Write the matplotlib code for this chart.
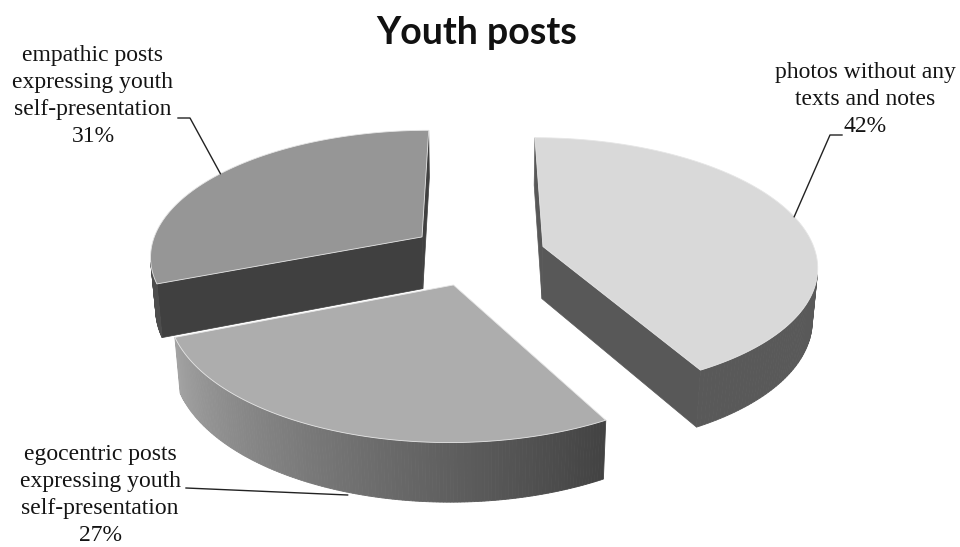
import numpy as np
import matplotlib
matplotlib.use("Agg")
import matplotlib.pyplot as plt
from matplotlib.patches import Polygon

# ---- data ----
categories = ["photos without any\ntexts and notes",
              "egocentric posts\nexpressing youth\nself-presentation",
              "empathic posts\nexpressing youth\nself-presentation"]
values = [42, 27, 31]
top_colors = ["#d9d9d9", "#adadad", "#969696"]
cut_colors = ["#585858", "#454545", "#404040"]

title = "Youth posts"

# ---- 3D projection parameters (pixel space) ----
W, H = 960, 547
cx, cy = 477.4, 254.3
f, D = 1731.0, 6.34
elev = np.deg2rad(27.5)
h = 0.22
expl = 0.25
ce, se = np.cos(elev), np.sin(elev)
cam = np.array([0.0, -D * ce, D * se])


def proj(x, y, z):
    x = np.asarray(x, float); y = np.asarray(y, float); z = np.asarray(z, float)
    w = D + y * ce - z * se
    v = y * se + z * ce
    return cx + f * x / w, cy - f * v / w


def wall_shade(i, t):
    # t in degrees (math angle)
    if i == 1:
        a = np.clip((t - (-158.4)) / ((-61.2) - (-158.4)), 0, 1)
        g = 0.64 * (1 - a) + 0.26 * a
    elif i == 0:
        g = 0.35
    else:
        g = 0.30
    return (g, g, g)


fig = plt.figure(figsize=(W / 100, H / 100), dpi=100)
ax = fig.add_axes([0, 0, 1, 1])
ax.set_xlim(0, W)
ax.set_ylim(H, 0)
ax.axis("off")

total = float(sum(values))
starts, ends, mids = [], [], []
cum = 0.0
for v in values:
    t0 = 90 - cum / total * 360
    t1 = t0 - v / total * 360
    starts.append(t0); ends.append(t1); mids.append((t0 + t1) / 2)
    cum += v

offsets = [expl * np.array([np.cos(np.deg2rad(m)), np.sin(np.deg2rad(m))]) for m in mids]
order = sorted(range(len(values)), key=lambda i: -offsets[i][1])


def visible(n, p):
    return np.dot(n, cam - p) > 0


for i in order:
    ox, oy = offsets[i]
    t0, t1 = starts[i], ends[i]
    ts = np.linspace(t0, t1, 160)
    tr = np.deg2rad(ts)
    ax_ = ox + np.cos(tr); ay_ = oy + np.sin(tr)
    # cut faces
    for t, sign in ((t0, 1), (t1, -1)):
        r = np.deg2rad(t)
        n = sign * np.array([-np.sin(r), np.cos(r), 0.0])
        p = np.array([ox + 0.5 * np.cos(r), oy + 0.5 * np.sin(r), -h / 2])
        if visible(n, p):
            xs = [ox, ox + np.cos(r), ox + np.cos(r), ox]
            ys = [oy, oy + np.sin(r), oy + np.sin(r), oy]
            zs = [0, 0, -h, -h]
            X, Y = proj(xs, ys, zs)
            ax.add_patch(Polygon(np.c_[X, Y], closed=True, fc=cut_colors[i],
                                 ec=cut_colors[i], lw=0.5, zorder=2))
    # outer wall
    for k in range(len(ts) - 1):
        tm = np.deg2rad((ts[k] + ts[k + 1]) / 2)
        n = np.array([np.cos(tm), np.sin(tm), 0.0])
        p = np.array([ox + np.cos(tm), oy + np.sin(tm), -h / 2])
        if visible(n, p):
            xs = [ax_[k], ax_[k + 1], ax_[k + 1], ax_[k]]
            ys = [ay_[k], ay_[k + 1], ay_[k + 1], ay_[k]]
            zs = [0, 0, -h, -h]
            X, Y = proj(xs, ys, zs)
            c = wall_shade(i, (ts[k] + ts[k + 1]) / 2)
            ax.add_patch(Polygon(np.c_[X, Y], closed=True, fc=c, ec=c, lw=0.6, zorder=2))
    # top face
    X, Y = proj(np.r_[ox, ax_], np.r_[oy, ay_], np.zeros(len(ts) + 1))
    ax.add_patch(Polygon(np.c_[X, Y], closed=True, fc=top_colors[i],
                         ec="#e6e6e6", lw=0.6, zorder=3))

# ---- labels ----
label_pos = [(865, 99.5), (100, 495), (93, 96)]
elbows = [[(842, 135), (830, 135)], [(186, 488)], [(178, 118), (190, 118)]]
for i in range(len(values)):
    txt = f"{categories[i]}\n{values[i]}%"
    ax.text(label_pos[i][0], label_pos[i][1], txt, ha="center", va="center",
            fontsize=17, family="Liberation Serif", linespacing=1.37,
            color="#141414", zorder=5)
    ox, oy = offsets[i]
    r = np.deg2rad(mids[i])
    z = -h if i == 1 else 0.0
    px, py = proj(ox + np.cos(r), oy + np.sin(r), z)
    pts = elbows[i] + [(float(px) + (6 if i == 1 else 0), float(py) + (4 if i == 1 else 0))]
    ax.plot([p[0] for p in pts], [p[1] for p in pts], color="#222222", lw=1.0, zorder=4)

ax.text(477, 33, title, ha="center", va="center", fontsize=27,
        fontweight="bold", family="Lato", color="#111111")

fig.savefig("out.png", dpi=100)
